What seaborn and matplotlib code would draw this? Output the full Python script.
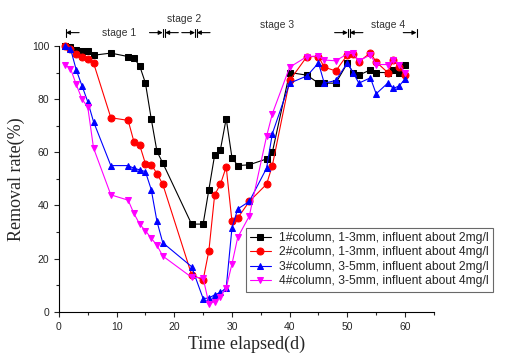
import pandas as pd
import seaborn as sns
import matplotlib.pyplot as plt

# sampling days (same for all four columns)
days = [1, 2, 3, 4, 5, 6, 9, 12, 13, 14, 15, 16, 17, 18, 23, 25, 26, 27, 28, 29,
        30, 31, 33, 36, 37, 40, 43, 45, 46, 48, 50, 51, 52, 54, 55, 57, 58, 59, 60]

col1 = [100, 99.5, 98.5, 98, 98, 96.5, 97.3, 96, 95.4, 92.5, 86, 72.6, 60.3, 56, 33, 33, 46, 59, 61, 72.7,
        58, 55, 55.3, 57.5, 60, 90, 89, 86, 86, 86, 93.5, 90, 89, 91, 90, 90, 91, 90, 93]
col2 = [100, 99, 97, 96, 95, 93.6, 73, 72, 64, 62.7, 55.7, 55.4, 52, 48, 14, 12, 23, 44, 48, 54.5,
        34, 35.3, 41.5, 48, 55, 87, 96, 96, 92, 90.6, 96.6, 97, 94, 97.4, 94, 90, 94.7, 92, 89]
col3 = [100, 99, 91, 85, 79, 71.5, 55, 55, 54, 53.4, 52.7, 46, 34, 26, 17, 5, 5.2, 6.4, 7.3, 9,
        31.5, 38.7, 41.5, 54, 67, 86, 88.7, 93.6, 86, 87, 93.6, 90, 86, 88, 82, 86, 84, 85, 87.5]
col4 = [93, 91.5, 85.5, 80, 77, 61.6, 44, 42, 37, 33, 30.5, 27.7, 25, 21, 13, 12.8, 3, 3.8, 5.7, 9,
        18, 28, 36, 66, 74.5, 92, 96, 96.2, 94.7, 94.4, 97, 97.3, 94.4, 96.6, 93, 93, 94.7, 93, 90]

labels = ["1#column, 1-3mm, influent about 2mg/l",
          "2#column, 1-3mm, influent about 4mg/l",
          "3#column, 3-5mm, influent about 2mg/l",
          "4#column, 3-5mm, influent about 4mg/l"]
colors = ["black", "red", "blue", "magenta"]
markers = ["s", "o", "^", "v"]

# stages drawn above the plot
stage_names = ["stage 1", "stage 2", "stage 3", "stage 4"]
stage_start = [1.2, 18.4, 23.9, 50.4]
stage_end = [18.0, 23.6, 50.1, 62.0]
stage_text_x = [10.4, 21.7, 37.8, 57.0]
stage_text_y = [105, 110, 108, 108]

df = pd.concat([pd.DataFrame({"day": days, "rate": v, "series": lab})
                for v, lab in zip([col1, col2, col3, col4], labels)])

sns.set_style("ticks")
plt.rcParams["font.family"] = ["Liberation Sans", "DejaVu Sans"]

fig = plt.figure(figsize=(5.08, 3.56), dpi=100)
ax = fig.add_axes([0.116, 0.124, 0.738, 0.747])

sns.lineplot(data=df, x="day", y="rate", hue="series", style="series",
             palette=dict(zip(labels, colors)), markers=dict(zip(labels, markers)),
             dashes=False, markersize=5, linewidth=0.8, legend=False, ax=ax)

for line in ax.lines:
    line.set_markeredgecolor(line.get_color())
    line.set_clip_on(False)

ax.set_xlim(0, 65)
ax.set_ylim(0, 100)
ax.set_xticks(range(0, 61, 10))
ax.set_xticks(range(5, 66, 10), minor=True)
ax.set_yticks(range(0, 101, 20))
ax.set_yticks(range(10, 100, 20), minor=True)
ax.tick_params(axis="both", which="major", labelsize=7.5, length=3.5, width=0.8, direction="out")
ax.tick_params(axis="both", which="minor", length=2, width=0.8, direction="out")
sns.despine(ax=ax)
for s in ["left", "bottom"]:
    ax.spines[s].set_linewidth(0.8)
    ax.spines[s].set_color("black")

ax.set_xlabel("Time elapsed(d)", family="Liberation Serif", fontsize=13, labelpad=3)
ax.set_ylabel("Removal rate(%)", family="Liberation Serif", fontsize=13, labelpad=5)

# stage markers
for name, a, b, tx, ty in zip(stage_names, stage_start, stage_end, stage_text_x, stage_text_y):
    for edge, tail in [(a, a + 2.3), (b, b - 2.3)]:
        ax.annotate("", xy=(edge, 105), xytext=(tail, 105), annotation_clip=False,
                    arrowprops=dict(arrowstyle="-|>", color="black", lw=0.8,
                                    mutation_scale=6, shrinkA=0, shrinkB=0))
        ax.plot([edge, edge], [103.5, 106.5], color="black", lw=0.8, clip_on=False)
    ax.text(tx, ty, name, ha="center", va="center", fontsize=7.5, color="#333333")

handles = ax.lines[:4]
ax.legend(handles, labels, loc="upper left", bbox_to_anchor=(0.484, 0.36),
          bbox_transform=fig.transFigure, fontsize=8.7, frameon=True, fancybox=False,
          edgecolor="#444444", handlelength=1.7, handletextpad=0.7, labelspacing=0.2,
          borderpad=0.35, borderaxespad=0)
ax.get_legend().get_frame().set_linewidth(0.8)

fig.savefig("out.png", dpi=100)
